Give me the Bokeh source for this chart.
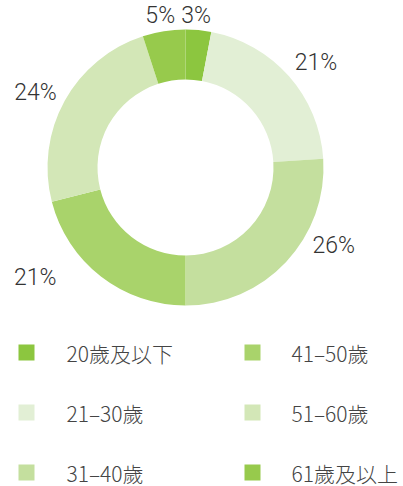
import math
from bokeh.plotting import figure
from bokeh.models import Range1d, ColumnDataSource
from bokeh.core.properties import value
from bokeh.embed import file_html
from bokeh.resources import INLINE

categories = ["20歲及以下", "21–30歲", "31–40歲", "41–50歲", "51–60歲", "61歲及以上"]
shares = [3, 21, 26, 21, 24, 5]
colors = ["#8cc63f", "#e2efd5", "#c4df9e", "#a9d36b", "#d3e7b7", "#97ca4c"]

W, H = 403, 486
# data coordinates: x = picture pixel, y = 486 - picture pixel
p = figure(width=W, height=H, output_backend="svg", toolbar_location=None,
           x_range=Range1d(0, W), y_range=Range1d(486 - H, 486),
           min_border=0, outline_line_color=None)
p.axis.visible = False
p.grid.visible = False
p.background_fill_color = "white"
p.border_fill_color = "white"

cx, cy = 185, 486 - 167
r_in, r_out = 88, 138

total = sum(shares)
starts, ends, mids = [], [], []
acc = 0.0
for s in shares:
    a0 = acc / total * 2 * math.pi
    acc += s
    a1 = acc / total * 2 * math.pi
    starts.append(math.pi / 2 - a0)
    ends.append(math.pi / 2 - a1)
    mids.append((a0 + a1) / 2)

src = ColumnDataSource(dict(x=[cx] * len(shares), y=[cy] * len(shares),
                            start=starts, end=ends, color=colors))
p.annular_wedge(x="x", y="y", inner_radius=r_in, outer_radius=r_out,
                inner_radius_units="screen", outer_radius_units="screen",
                start_angle="start", end_angle="end", direction="clock",
                fill_color="color", line_color=None, source=src)

# percentage labels
R = 155
label_dx = [-4, -7, 14, -34, 7, -1]
label_dy = [2, -2, -28, -12, 0, 1]
lx, ly, lt, la = [], [], [], []
for i, (s, m) in enumerate(zip(shares, mids)):
    sx = math.sin(m)
    lx.append(cx + R * sx)
    ly.append(cy + R * math.cos(m))
    lt.append(f"{s}%")
    la.append("left" if sx > 0.3 else ("right" if sx < -0.3 else "center"))
lsrc = ColumnDataSource(dict(x=lx, y=ly, t=lt, a=la, dx=label_dx, dy=label_dy))
p.text(x="x", y="y", text="t", text_align="a", text_baseline="middle",
       x_offset="dx", y_offset="dy", source=lsrc,
       text_font=value("Roboto Light, Liberation Sans, sans-serif"),
       text_font_size="23px", text_color="#333333")

# legend
col_x = [26, 252]
text_x = [66, 291]
row_y = [352, 412, 472]
sq_x, sq_y, tx, ty = [], [], [], []
for i, c in enumerate(categories):
    col, row = i // 3, i % 3
    sq_x.append(col_x[col])
    sq_y.append(486 - row_y[row])
    tx.append(text_x[col])
    ty.append(486 - row_y[row])
p.rect(x=sq_x, y=sq_y, width=16, height=16, width_units="screen", height_units="screen",
       fill_color=colors, line_color=None)
p.text(x=tx, y=ty, text=categories, text_align="left", text_baseline="middle",
       text_font=value("Noto Sans CJK TC Light, Noto Sans CJK TC, sans-serif"),
       text_font_size="21px", text_color="#444444")

open("out.html", "w").write(file_html(p, INLINE))
